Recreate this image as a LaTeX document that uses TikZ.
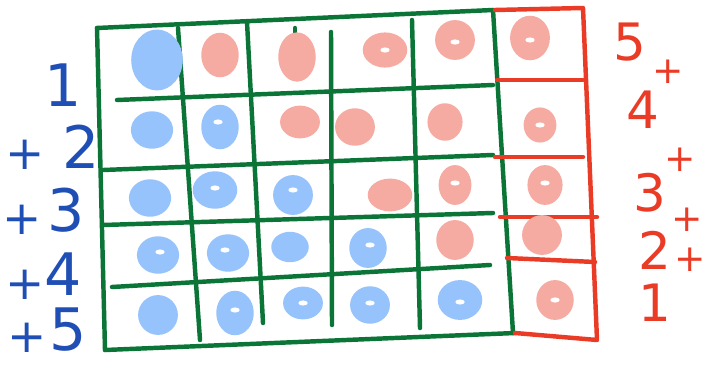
\documentclass[tikz,border=0pt]{standalone}
\usepackage{fontspec}
\setsansfont{DejaVu Sans}
\usetikzlibrary{positioning}
\definecolor{gridgreen}{HTML}{0B7437}
\definecolor{rowred}{HTML}{EA3B27}
\definecolor{dotblue}{HTML}{96C3FB}
\definecolor{dotpink}{HTML}{F6ABA2}
\definecolor{numblue}{HTML}{1F4FB5}
\tikzset{
  gridline/.style={draw=gridgreen,line width=3.8pt,line cap=round,line join=round},
  redline/.style={draw=rowred,line width=3.8pt,line cap=round,line join=round},
  bluenum/.style={font=\sffamily\fontsize{50}{50}\selectfont,text=numblue,inner sep=0pt},
  blueplus/.style={font=\sffamily\fontsize{40}{40}\selectfont,text=numblue,inner sep=0pt},
  rednum/.style={font=\sffamily\fontsize{44}{44}\selectfont,text=rowred,inner sep=0pt},
  redplus/.style={font=\sffamily\fontsize{32}{32}\selectfont,text=rowred,inner sep=0pt}
}

\begin{document}
\begin{tikzpicture}[x=0.03cm,y=-0.03cm]
\path[use as bounding box] (0,0) rectangle (706,367);
% green grid
\draw[gridline] (97,28)--(493,10);
\draw[gridline] (117,100)--(493,85);
\draw[gridline] (103,170)--(493,155);
\draw[gridline] (103,225)--(493,213);
\draw[gridline] (112,287)--(490,265);
\draw[gridline] (105,350)--(515,333);
\draw[gridline] (97,28)--(105,350);
\draw[gridline] (178,28)--(200,340);
\draw[gridline] (247,22)--(263,323);
\draw[gridline] (295,28)--(295,38);
\draw[gridline] (331,32)--(332,325);
\draw[gridline] (412,20)--(420,328);
\draw[gridline] (493,10)--(513,333);
% red column
\draw[redline] (495,10)--(583,8)--(597,340)--(515,333);
\draw[redline] (497,80)--(583,80);
\draw[redline] (495,157)--(583,157);
\draw[redline] (500,217)--(597,217);
\draw[redline] (507,258)--(595,262);
% dots
\foreach \x/\y/\rx/\ry in {157/60/22/26,152/130/18/16,220/127/16/19,150/198/18/16,215/190/19/16,
  293/195/17/17,158/255/18/16,228/253/18/16,290/247/16/13,368/248/16/17,158/315/17/17,
  235/313/16/19,303/303/17/14,370/305/17/16,460/300/19/17}
  \fill[dotblue] (\x,\y) ellipse [x radius=\rx pt,y radius=\ry pt];
\foreach \x/\y/\rx/\ry in {220/55/16/19,297/57/16/21,385/50/19/15,455/40/17/17,
  300/122/17/14,355/127/17/16,445/122/15/16,390/195/19/14,455/185/14/17,455/240/16/17,
  530/38/17/19,540/125/14/15,545/185/15/17,542/235/17/17,555/300/16/17}
  \fill[dotpink] (\x,\y) ellipse [x radius=\rx pt,y radius=\ry pt];
\foreach \x/\y in {385/50,455/42,530/40,218/122,540/125,215/188,293/190,455/183,545/183,
  160/252,225/250,370/245,235/310,303/303,370/303,460/302,555/300}
  \fill[white] (\x,\y) ellipse [x radius=4pt,y radius=2.2pt];
% left sums
\node[bluenum] (lone) at (63,85) {1};
\node[bluenum] (ltwo) at (81,147) {2};
\node[blueplus] (lpltwo) at (25,155) {+};
\node[bluenum] (lthree) at (66,210) {3};
\node[blueplus] (lplthree) at (22,220) {+};
\node[bluenum] (lfour) at (63,274) {4};
\node[blueplus] (lplfour) at (25,285) {+};
\node[bluenum] (lfive) at (68,330) {5};
\node[blueplus] (lplfive) at (27,338) {+};
% right sums
\node[rednum] (rfive) at (630,42) {5};
\node[redplus] (rplfour) at (668,72) {+};
\node[rednum] (rfour) at (643,110) {4};
\node[redplus] (rplthree) at (680,160) {+};
\node[rednum] (rthree) at (650,193) {3};
\node[redplus] (rpltwo) at (687,220) {+};
\node[rednum] (rtwo) at (655,250) {2};
\node[redplus] (rplone) at (690,260) {+};
\node[rednum] (rone) at (655,303) {1};
\end{tikzpicture}
\end{document}
